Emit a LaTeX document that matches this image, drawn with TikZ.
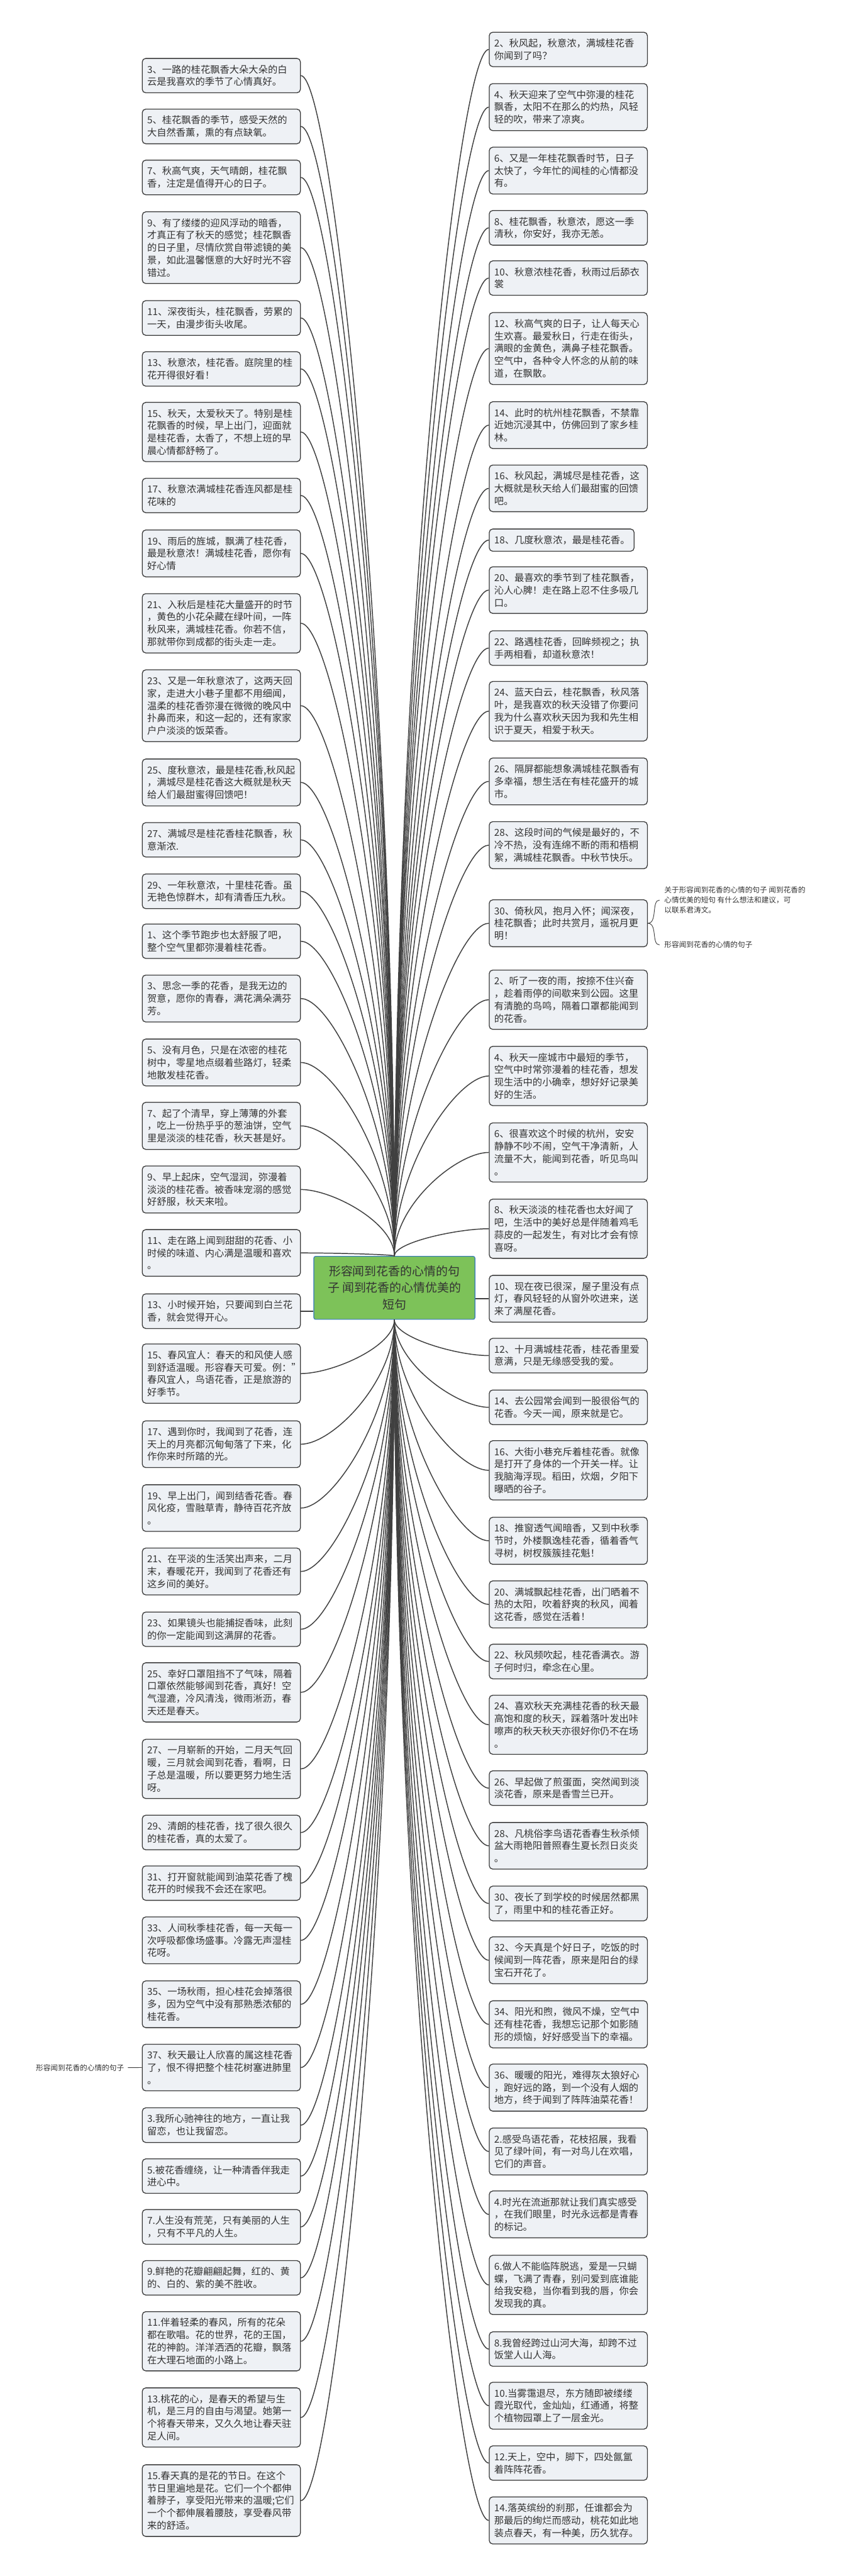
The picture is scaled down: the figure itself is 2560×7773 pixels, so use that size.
\documentclass[tikz,border=0pt]{standalone}
\usepackage{fontspec}
\setmainfont{Noto Sans CJK SC}
\usetikzlibrary{calc}

\definecolor{boxfill}{RGB}{238,241,245}
\definecolor{boxline}{RGB}{58,58,58}
\definecolor{linkgray}{RGB}{64,64,64}
\definecolor{textgray}{RGB}{51,51,51}
\definecolor{rootgreen}{RGB}{125,194,89}
\definecolor{rootblue}{RGB}{52,120,190}

\begin{document}
\begin{tikzpicture}[x=0.01cm,y=-0.01cm,
  leaf/.style={draw=boxline, fill=boxfill, line width=0.7pt, rounded corners=3pt,
    anchor=north west, text width=4.47cm, align=left, inner xsep=0.15cm, inner ysep=5.6pt,
    text=textgray, font=\fontsize{8.25}{10.67}\selectfont},
  root/.style={draw=rootblue, fill=rootgreen, line width=0.6pt, rounded corners=1.5pt,
    minimum width=4.86cm, minimum height=1.9cm, align=center, text=textgray,
    font=\fontsize{10.2}{14.2}\selectfont},
  note/.style={text=textgray, align=left, inner ysep=0pt, font=\fontsize{6.3}{8.5}\selectfont},
  conn/.style={draw=linkgray, line width=0.8pt},
  thin/.style={draw=linkgray, line width=0.5pt}]

  \useasboundingbox (0,0) rectangle (2560,7773);
  \fill[white] (0,0) rectangle (2560,7773);

  \node[root] (root) at (1190,3886) {形容闻到花香的心情的句\\子 闻到花香的心情优美的\\短句};

  \node[leaf] (L1) at (428,175) {3、一路的桂花飘香大朵大朵的白\\云是我喜欢的季节了心情真好。};
  \node[leaf] (L2) at (428,328) {5、桂花飘香的季节，感受天然的\\大自然香薰，熏的有点缺氧。};
  \node[leaf] (L3) at (428,482) {7、秋高气爽，天气晴朗，桂花飘\\香，注定是值得开心的日子。};
  \node[leaf] (L4) at (428,638) {9、有了缕缕的迎风浮动的暗香，\\才真正有了秋天的感觉；桂花飘香\\的日子里，尽情欣赏自带滤镜的美\\景，如此温馨惬意的大好时光不容\\错过。};
  \node[leaf] (L5) at (428,906) {11、深夜街头，桂花飘香，劳累的\\一天，由漫步街头收尾。};
  \node[leaf] (L6) at (428,1060) {13、秋意浓，桂花香。庭院里的桂\\花开得很好看！};
  \node[leaf] (L7) at (428,1213) {15、秋天，太爱秋天了。特别是桂\\花飘香的时候，早上出门，迎面就\\是桂花香，太香了，不想上班的早\\晨心情都舒畅了。};
  \node[leaf] (L8) at (428,1442) {17、秋意浓满城桂花香连风都是桂\\花味的};
  \node[leaf] (L9) at (428,1598) {19、雨后的旌城，飘满了桂花香，\\最是秋意浓！满城桂花香，愿你有\\好心情};
  \node[leaf] (L10) at (428,1790) {21、入秋后是桂花大量盛开的时节\\，黄色的小花朵藏在绿叶间，一阵\\秋风来，满城桂花香。你若不信，\\那就带你到成都的街头走一走。};
  \node[leaf] (L11) at (428,2020) {23、又是一年秋意浓了，这两天回\\家，走进大小巷子里都不用细闻，\\温柔的桂花香弥漫在微微的晚风中\\扑鼻而来，和这一起的，还有家家\\户户淡淡的饭菜香。};
  \node[leaf] (L12) at (428,2289) {25、度秋意浓，最是桂花香,秋风起\\，满城尽是桂花香这大概就是秋天\\给人们最甜蜜得回馈吧！};
  \node[leaf] (L13) at (428,2481) {27、满城尽是桂花香桂花飘香，秋\\意渐浓.};
  \node[leaf] (L14) at (428,2636) {29、一年秋意浓，十里桂花香。虽\\无艳色惊群木，却有清香压九秋。};
  \node[leaf] (L15) at (428,2787) {1、这个季节跑步也太舒服了吧，\\整个空气里都弥漫着桂花香。};
  \node[leaf] (L16) at (428,2941) {3、思念一季的花香，是我无边的\\贺意，愿你的青春，满花满朵满芬\\芳。};
  \node[leaf] (L17) at (428,3134) {5、没有月色，只是在浓密的桂花\\树中，零星地点缀着些路灯，轻柔\\地散发桂花香。};
  \node[leaf] (L18) at (428,3325) {7、起了个清早，穿上薄薄的外套\\，吃上一份热乎乎的葱油饼，空气\\里是淡淡的桂花香，秋天甚是好。};
  \node[leaf] (L19) at (428,3517) {9、早上起床，空气湿润，弥漫着\\淡淡的桂花香。被香味宠溺的感觉\\好舒服，秋天来啦。};
  \node[leaf] (L20) at (428,3709) {11、走在路上闻到甜甜的花香、小\\时候的味道、内心满是温暖和喜欢\\。};
  \node[leaf] (L21) at (428,3903) {13、小时候开始，只要闻到白兰花\\香，就会觉得开心。};
  \node[leaf] (L22) at (428,4054) {15、春风宜人：春天的和风使人感\\到舒适温暖。形容春天可爱。例："\\春风宜人，鸟语花香，正是旅游的\\好季节。};
  \node[leaf] (L23) at (428,4286) {17、遇到你时，我闻到了花香，连\\天上的月亮都沉甸甸落了下来，化\\作你来时所踏的光。};
  \node[leaf] (L24) at (428,4479) {19、早上出门，闻到结香花香。春\\风化疫，雪融草青，静待百花齐放\\。};
  \node[leaf] (L25) at (428,4670) {21、在平淡的生活笑出声来，二月\\末，春暖花开，我闻到了花香还有\\这乡间的美好。};
  \node[leaf] (L26) at (428,4863) {23、如果镜头也能捕捉香味，此刻\\的你一定能闻到这满屏的花香。};
  \node[leaf] (L27) at (428,5016) {25、幸好口罩阻挡不了气味，隔着\\口罩依然能够闻到花香，真好！空\\气湿漉，冷风清浅，微雨淅沥，春\\天还是春天。};
  \node[leaf] (L28) at (428,5247) {27、一月崭新的开始，二月天气回\\暖，三月就会闻到花香，看啊，日\\子总是温暖，所以要更努力地生活\\呀。};
  \node[leaf] (L29) at (428,5476) {29、清朗的桂花香，找了很久很久\\的桂花香，真的太爱了。};
  \node[leaf] (L30) at (428,5629) {31、打开窗就能闻到油菜花香了槐\\花开的时候我不会还在家吧。};
  \node[leaf] (L31) at (428,5783) {33、人间秋季桂花香，每一天每一\\次呼吸都像场盛事。冷露无声湿桂\\花呀。};
  \node[leaf] (L32) at (428,5976) {35、一场秋雨，担心桂花会掉落很\\多，因为空气中没有那熟悉浓郁的\\桂花香。};
  \node[leaf] (L33) at (428,6167) {37、秋天最让人欣喜的属这桂花香\\了，恨不得把整个桂花树塞进肺里\\。};
  \node[leaf] (L34) at (428,6359) {3.我所心驰神往的地方，一直让我\\留恋，也让我留恋。};
  \node[leaf] (L35) at (428,6513) {5.被花香缠绕，让一种清香伴我走\\进心中。};
  \node[leaf] (L36) at (428,6666) {7.人生没有荒芜，只有美丽的人生\\，只有不平凡的人生。};
  \node[leaf] (L37) at (428,6820) {9.鲜艳的花瓣翩翩起舞，红的、黄\\的、白的、紫的美不胜收。};
  \node[leaf] (L38) at (428,6974) {11.伴着轻柔的春风，所有的花朵\\都在歌唱。花的世界，花的王国，\\花的神韵。洋洋洒洒的花瓣，飘落\\在大理石地面的小路上。};
  \node[leaf] (L39) at (428,7204) {13.桃花的心，是春天的希望与生\\机，是三月的自由与渴望。她第一\\个将春天带来，又久久地让春天驻\\足人间。};
  \node[leaf] (L40) at (428,7436) {15.春天真的是花的节日。在这个\\节日里遍地是花。它们一个个都伸\\着脖子，享受阳光带来的温暖;它们\\一个个都伸展着腰肢，享受春风带\\来的舒适。};

  \node[leaf] (R1) at (1475,96) {2、秋风起，秋意浓，满城桂花香\\你闻到了吗？};
  \node[leaf] (R2) at (1475,251) {4、秋天迎来了空气中弥漫的桂花\\飘香，太阳不在那么的灼热，风轻\\轻的吹，带来了凉爽。};
  \node[leaf] (R3) at (1475,443) {6、又是一年桂花飘香时节，日子\\太快了，今年忙的闻桂的心情都没\\有。};
  \node[leaf] (R4) at (1475,634) {8、桂花飘香，秋意浓，愿这一季\\清秋，你安好，我亦无恙。};
  \node[leaf] (R5) at (1475,786) {10、秋意浓桂花香，秋雨过后舔衣\\裳};
  \node[leaf] (R6) at (1475,942) {12、秋高气爽的日子，让人每天心\\生欢喜。最爱秋日，行走在街头，\\满眼的金黄色，满鼻子桂花飘香。\\空气中，各种令人怀念的从前的味\\道，在飘散。};
  \node[leaf] (R7) at (1475,1211) {14、此时的杭州桂花飘香，不禁靠\\近她沉浸其中，仿佛回到了家乡桂\\林。};
  \node[leaf] (R8) at (1475,1402) {16、秋风起，满城尽是桂花香，这\\大概就是秋天给人们最甜蜜的回馈\\吧。};
  \node[leaf, text width=4.07cm] (R9) at (1475,1595) {18、几度秋意浓，最是桂花香。};
  \node[leaf] (R10) at (1475,1709) {20、最喜欢的季节到了桂花飘香，\\沁人心脾！走在路上忍不住多吸几\\口。};
  \node[leaf] (R11) at (1475,1902) {22、路遇桂花香，回眸频视之；执\\手两相看，却道秋意浓！};
  \node[leaf] (R12) at (1475,2055) {24、蓝天白云，桂花飘香，秋风落\\叶，是我喜欢的秋天没错了你要问\\我为什么喜欢秋天因为我和先生相\\识于夏天，相爱于秋天。};
  \node[leaf] (R13) at (1475,2286) {26、隔屏都能想象满城桂花飘香有\\多幸福，想生活在有桂花盛开的城\\市。};
  \node[leaf] (R14) at (1475,2478) {28、这段时间的气候是最好的，不\\冷不热，没有连绵不断的雨和梧桐\\絮，满城桂花飘香。中秋节快乐。};
  \node[leaf] (R15) at (1475,2714) {30、倚秋风，抱月入怀；闻深夜，\\桂花飘香；此时共赏月，遥祝月更\\明！};
  \node[leaf] (R16) at (1475,2926) {2、听了一夜的雨，按捺不住兴奋\\，趁着雨停的间歇来到公园。这里\\有清脆的鸟鸣，隔着口罩都能闻到\\的花香。};
  \node[leaf] (R17) at (1475,3156) {4、秋天一座城市中最短的季节，\\空气中时常弥漫着的桂花香，想发\\现生活中的小确幸，想好好记录美\\好的生活。};
  \node[leaf] (R18) at (1475,3387) {6、很喜欢这个时候的杭州，安安\\静静不吵不闹，空气干净清新，人\\流量不大，能闻到花香，听见鸟叫\\。};
  \node[leaf] (R19) at (1475,3617) {8、秋天淡淡的桂花香也太好闻了\\吧，生活中的美好总是伴随着鸡毛\\蒜皮的一起发生，有对比才会有惊\\喜呀。};
  \node[leaf] (R20) at (1475,3847) {10、现在夜已很深，屋子里没有点\\灯，春风轻轻的从窗外吹进来，送\\来了满屋花香。};
  \node[leaf] (R21) at (1475,4037) {12、十月满城桂花香，桂花香里爱\\意满，只是无缘感受我的爱。};
  \node[leaf] (R22) at (1475,4193) {14、去公园常会闻到一股很俗气的\\花香。今天一闻，原来就是它。};
  \node[leaf] (R23) at (1475,4346) {16、大街小巷充斥着桂花香。就像\\是打开了身体的一个开关一样。让\\我脑海浮现。稻田，炊烟，夕阳下\\曝晒的谷子。};
  \node[leaf] (R24) at (1475,4577) {18、推窗透气闻暗香，又到中秋季\\节时，外楼飘逸桂花香，循着香气\\寻树，树杈簇簇挂花魁！};
  \node[leaf] (R25) at (1475,4769) {20、满城飘起桂花香，出门晒着不\\热的太阳，吹着舒爽的秋风，闻着\\这花香，感觉在活着！};
  \node[leaf] (R26) at (1475,4960) {22、秋风频吹起，桂花香满衣。游\\子何时归，牵念在心里。};
  \node[leaf] (R27) at (1475,5114) {24、喜欢秋天充满桂花香的秋天最\\高饱和度的秋天，踩着落叶发出咔\\嚓声的秋天秋天亦很好你仍不在场\\。};
  \node[leaf] (R28) at (1475,5342) {26、早起做了煎蛋面，突然闻到淡\\淡花香，原来是香雪兰已开。};
  \node[leaf] (R29) at (1475,5498) {28、凡桃俗李鸟语花香春生秋杀倾\\盆大雨艳阳普照春生夏长烈日炎炎\\。};
  \node[leaf] (R30) at (1475,5690) {30、夜长了到学校的时候居然都黑\\了，雨里中和的桂花香正好。};
  \node[leaf] (R31) at (1475,5843) {32、今天真是个好日子，吃饭的时\\候闻到一阵花香，原来是阳台的绿\\宝石开花了。};
  \node[leaf] (R32) at (1475,6036) {34、阳光和煦，微风不燥，空气中\\还有桂花香，我想忘记那个如影随\\形的烦恼，好好感受当下的幸福。};
  \node[leaf] (R33) at (1475,6227) {36、暖暖的阳光，难得灰太狼好心\\，跑好远的路，到一个没有人烟的\\地方，终于闻到了阵阵油菜花香！};
  \node[leaf] (R34) at (1475,6420) {2.感受鸟语花香，花枝招展，我看\\见了绿叶间，有一对鸟儿在欢唱，\\它们的声音。};
  \node[leaf] (R35) at (1475,6610) {4.时光在流逝那就让我们真实感受\\，在我们眼里，时光永远都是青春\\的标记。};
  \node[leaf] (R36) at (1475,6804) {6.做人不能临阵脱逃，爱是一只蝴\\蝶，飞满了青春，别问爱到底谁能\\给我安稳，当你看到我的唇，你会\\发现我的真。};
  \node[leaf] (R37) at (1475,7035) {8.我曾经跨过山河大海，却跨不过\\饭堂人山人海。};
  \node[leaf] (R38) at (1475,7187) {10.当雾霭退尽，东方随即被缕缕\\霞光取代，金灿灿，红通通，将整\\个植物园罩上了一层金光。};
  \node[leaf] (R39) at (1475,7379) {12.天上，空中，脚下，四处氤氲\\着阵阵花香。};
  \node[leaf] (R40) at (1475,7533) {14.落英缤纷的刹那，任谁都会为\\那最后的绚烂而感动，桃花如此地\\装点春天，有一种美，历久犹存。};

  \node[note, anchor=east, inner xsep=0.11cm] (noteL) at (386,6239) {形容闻到花香的心情的句子};
  \node[note, anchor=west, inner xsep=0.14cm] (noteA) at (1990,2716) {关于形容闻到花香的心情的句子 闻到花香的\\心情优美的短句 有什么想法和建议，可\\以联系君涛文。};
  \node[note, anchor=west, inner xsep=0.14cm] (noteB) at (1990,2851) {形容闻到花香的心情的句子};

  \foreach \i in {1,...,20}
    \draw[conn] (root.north) .. controls ($(root.north)!0.5!(root.north |- L\i.east)$) and ($(L\i.east)+(95,0)$) .. (L\i.east);
  \foreach \i in {22,...,40}
    \draw[conn] (root.south) .. controls ($(root.south)!0.5!(root.south |- L\i.east)$) and ($(L\i.east)+(95,0)$) .. (L\i.east);
  \foreach \i in {1,...,19}
    \draw[conn] (root.north) .. controls ($(root.north)!0.5!(root.north |- R\i.west)$) and ($(R\i.west)+(-95,0)$) .. (R\i.west);
  \foreach \i in {21,...,40}
    \draw[conn] (root.south) .. controls ($(root.south)!0.5!(root.south |- R\i.west)$) and ($(R\i.west)+(-95,0)$) .. (R\i.west);
  \draw[conn] (L21.east) -- (L21.east -| root.west);
  \draw[conn] (R20.west) -- (R20.west -| root.east);

  \draw[thin] (noteL.east) -- (L33.west);
  \draw[thin] (R15.east) .. controls +(30,0) and +(-25,0) .. (noteA.west);
  \draw[thin] (R15.east) .. controls +(30,0) and +(-25,0) .. (noteB.west);
\end{tikzpicture}
\end{document}
